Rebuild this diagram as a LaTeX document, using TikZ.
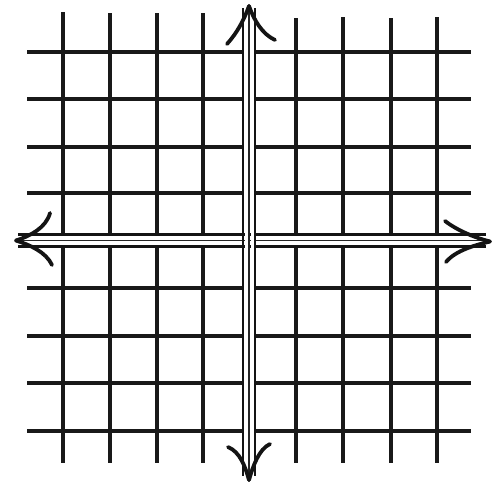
\documentclass[tikz,border=0pt]{standalone}
\begin{document}
\begin{tikzpicture}[x=1pt,y=-1pt,
  gridline/.style={line width=3.6pt,black!90},
  axisline/.style={line width=2.6pt,black!92},
  axismid/.style={line width=1.6pt,black!85},
  barb/.style={line width=3.8pt,black!92,line cap=round}]
\useasboundingbox (0,0) rectangle (498,483);
\fill[white] (0,0) rectangle (498,483);
% vertical grid lines
\foreach \x/\t in {63/12,110/13,157/13,203/13,296/18,343/17,391/18,437/17}
  \draw[gridline] (\x,\t) -- (\x,463);
% horizontal grid lines
\foreach \y in {52,99,147,193,288,336,383,431}
  \draw[gridline] (27,\y) -- (471,\y);
% vertical axis (triple line)
\draw[white,line width=14pt] (249,14) -- (249,472);
\draw[axisline] (243,8) -- (243,476);
\draw[axismid] (249,8) -- (249,478);
\draw[axisline] (255,8) -- (255,476);
% horizontal axis (triple line)
\draw[white,line width=14pt] (24,240.5) -- (482,240.5);
\draw[axisline] (18,234.5) -- (486,234.5);
\draw[axismid] (16,240.5) -- (490,240.5);
\draw[axisline] (18,246.5) -- (486,246.5);
% redraw vertical axis over horizontal
\draw[white,line width=3pt] (246,230) -- (246,251);
\draw[white,line width=3pt] (252,230) -- (252,251);
\draw[axisline] (243,228) -- (243,253);
\draw[axismid] (249,228) -- (249,253);
\draw[axisline] (255,228) -- (255,253);
% arrow barbs: top
\draw[barb] (249,6) .. controls (244,20) and (237,33) .. (227,44);
\draw[barb] (249,6) .. controls (254,20) and (262,34) .. (275,40);
% bottom
\draw[barb] (249,480) .. controls (245,466) and (240,452) .. (228,447);
\draw[barb] (249,480) .. controls (253,466) and (259,449) .. (270,444);
% left
\draw[barb] (16,240.5) .. controls (30,236) and (46,228) .. (50,213);
\draw[barb] (16,240.5) .. controls (30,245) and (46,252) .. (52,265);
% right
\draw[barb] (490,241.5) .. controls (476,238) and (458,231) .. (445,221);
\draw[barb] (490,241.5) .. controls (476,245) and (456,250) .. (446,262);
\end{tikzpicture}
\end{document}
